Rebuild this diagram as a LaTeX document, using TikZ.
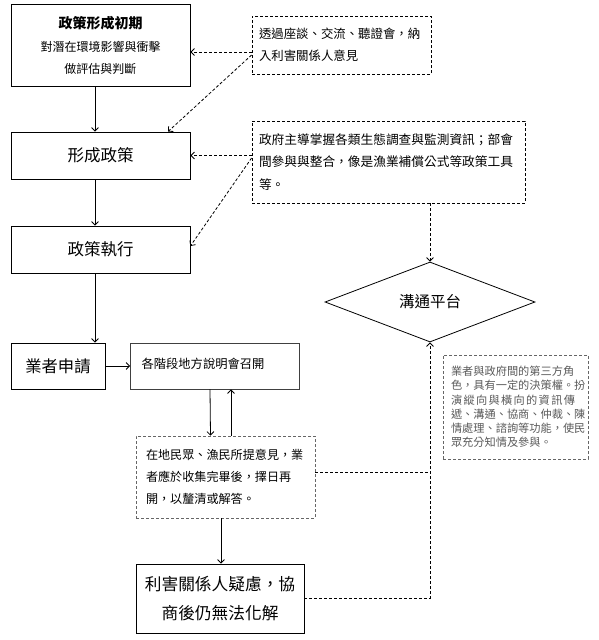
\documentclass[tikz,border=0pt]{standalone}
\usepackage{fontspec}
\setmainfont{Noto Sans CJK TC}
\usetikzlibrary{arrows.meta,shapes.geometric}
\tikzset{
  solidbox/.style={draw=black, line width=0.8pt, rectangle, inner sep=0pt, align=center},
  dbox/.style={draw=black, line width=0.8pt, dash pattern=on 3pt off 2pt, rectangle, align=left, anchor=center},
  gbox/.style={draw=black!60, line width=0.8pt, dash pattern=on 3pt off 2pt, rectangle, align=left, anchor=center},
  conn/.style={line width=0.8pt, -{Straight Barb[length=3.5pt,width=7pt]}},
  dconn/.style={line width=0.8pt, dash pattern=on 3pt off 2pt, -{Straight Barb[length=3.5pt,width=7pt]}},
  dline/.style={line width=0.8pt, dash pattern=on 3pt off 2pt},
}
\begin{document}
\begin{tikzpicture}[x=1pt,y=-1pt]
\useasboundingbox (0,0) rectangle (599,640);
% main column
\node[solidbox, minimum width=179pt, minimum height=82pt, font=\fontsize{12}{22}\selectfont] (b1) at (100.5,45)
  {{\fontsize{14}{22}\selectfont\bfseries 政策形成初期}\\[1pt]
   對潛在環境影響與衝擊\\
   做評估與判斷};
\node[solidbox, minimum width=179pt, minimum height=47pt, font=\fontsize{16.5}{20}\selectfont] (b2) at (100.5,155.5) {形成政策};
\node[solidbox, minimum width=179pt, minimum height=47pt, font=\fontsize{16.5}{20}\selectfont] (b3) at (100.5,249.5) {政策執行};
\node[solidbox, minimum width=94pt, minimum height=46pt, font=\fontsize{16.3}{20}\selectfont] (b4) at (58,366) {業者申請};
\node[solidbox, draw=black!75, minimum width=158pt, minimum height=46pt, text width=147pt, align=left, inner xsep=11pt, inner ysep=0pt, font=\fontsize{12.3}{22}\selectfont] (b5) at (215,366) {\raisebox{5pt}{各階段地方說明會召開}};
\node[gbox, minimum width=179pt, minimum height=82pt, text width=159pt, inner xsep=10pt, font=\fontsize{12.1}{22}\selectfont] (b6) at (225.5,477)
  {在地民眾、漁民所提意見，業\\者應於收集完畢後，擇日再\\開，以釐清或解答。};
\node[solidbox, minimum width=168pt, minimum height=69pt, font=\fontsize{16.7}{29}\selectfont] (b7) at (220,598.5)
  {利害關係人疑慮，協\\商後仍無法化解};
% right side
\node[dbox, minimum width=179pt, minimum height=58pt, text width=165pt, inner xsep=7pt, font=\fontsize{12.4}{22}\selectfont] (d1) at (341.5,45)
  {透過座談、交流、聽證會，納\\入利害關係人意見};
\node[dbox, minimum width=273pt, minimum height=82pt, text width=259pt, inner xsep=7pt, font=\fontsize{12.7}{22.5}\selectfont] (d2) at (388.5,162)
  {政府主導掌握各類生態調查與監測資訊；部會\\間參與與整合，像是漁業補償公式等政策工具\\等。};
\node[draw=black, line width=0.8pt, diamond, minimum width=210pt, minimum height=80pt, inner sep=0pt, font=\fontsize{15.5}{18}\selectfont] (dia) at (430,302) {溝通平台};
\node[gbox, minimum width=145pt, minimum height=104pt, text width=129pt, inner xsep=8pt, text=black!65, font=\fontsize{11.2}{14.3}\selectfont] (d3) at (515.5,407)
  {業者與政府間的第三方角\\色，具有一定的決策權。扮\\\makebox[124pt][s]{演\hfill 縱\hfill 向\hfill 與\hfill 橫\hfill 向\hfill 的\hfill 資\hfill 訊\hfill 傳}\\遞、溝通、協商、仲裁、陳\\情處理、諮詢等功能，使民\\眾充分知情及參與。};
% coordinates
\coordinate (ax) at (95,0);
\coordinate (m6) at ([yshift=5pt]b6.east);
% solid connectors
\draw[conn] (b1.south -| ax) -- (b2.north -| ax);
\draw[conn] (b2.south -| ax) -- (b3.north -| ax);
\draw[conn] (b3.south -| ax) -- (b4.north -| ax);
\draw[conn] (b4.east) -- (b5.west);
\draw[conn] ([xshift=-5pt]b5.south) -- ([xshift=-15pt]b6.north);
\draw[conn] ([xshift=5.5pt]b6.north) -- ([xshift=16pt]b5.south);
\draw[conn] ([xshift=-4.5pt]b6.south) -- ([xshift=1pt]b7.north);
% dashed connectors
\draw[dconn] ([yshift=-7pt]d1.west) -- ([yshift=-7pt]b1.east);
\draw[dconn] ([yshift=-10pt]d1.west) -- ([xshift=67.5pt]b2.north);
\draw[dconn] (b2.east -| d2.west) -- (b2.east);
\draw[dconn] ([yshift=4pt]d2.west) -- ([yshift=3.5pt]b3.east);
\draw[dconn] (dia.north |- d2.south) -- (dia.north);
\draw[dline] (m6) -- (m6 -| dia.south);
\draw[dconn] (b7.east) -- (b7.east -| dia.south) -- (dia.south);
\end{tikzpicture}
\end{document}
